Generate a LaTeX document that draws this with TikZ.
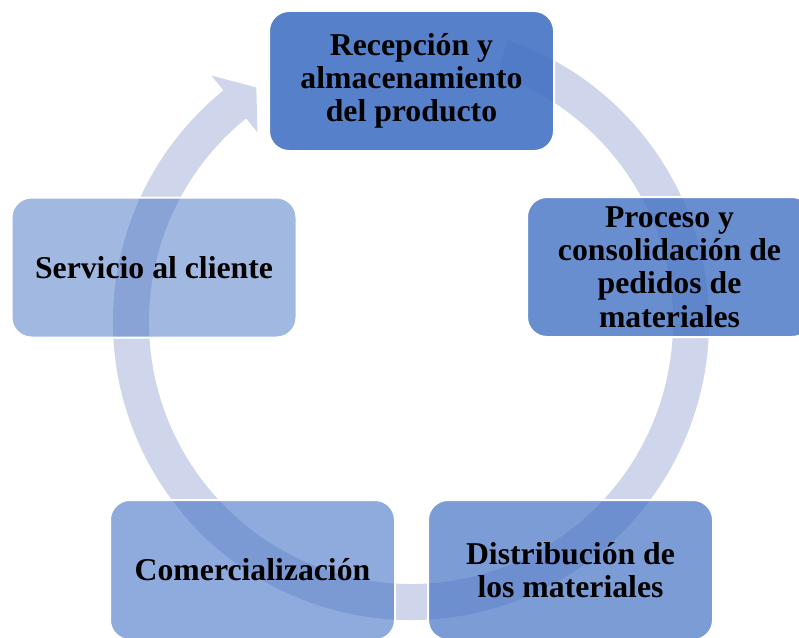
\documentclass[tikz,border=0pt]{standalone}
\usepackage{fontspec}
\setmainfont{Liberation Serif}
\usetikzlibrary{calc}
\definecolor{accent}{HTML}{4472C4}
\definecolor{ringlav}{HTML}{CFD5EA}
\tikzset{etapa/.style={rectangle, rounded corners=15pt, fill=accent, fill opacity=#1, text opacity=1,
  draw=white, draw opacity=1, line width=1.5pt, minimum width=213.75pt, minimum height=105pt,
  align=center, inner sep=2pt, font=\fontsize{23.8}{25}\selectfont\bfseries}}

\begin{document}
\begin{tikzpicture}[x=0.75pt, y=0.75pt]
\useasboundingbox (0,0) rectangle (799,637);
\clip (0,0) rectangle (799,637);
\coordinate (C) at (411,315);
% flecha circular de fondo
\fill[ringlav] ($(C)+(71:298)$) arc[start angle=71, end angle=-231, radius=298]
  -- ($(C)+(129:317)$) -- ($(C)+(123.4:281)$) -- ($(C)+(129:244)$)
  -- ($(C)+(129:262)$) arc[start angle=-231, end angle=71, radius=262] -- cycle;

\node[etapa=0.9] (recep)    at (411.5,556) {Recepción y\\almacenamiento\\del producto};
\node[etapa=0.8] (proceso)  at (669.5,370) {Proceso y\\consolidación de\\pedidos de\\materiales};
\node[etapa=0.7] (distrib)  at (570.5,67)  {Distribución de\\los materiales};
\node[etapa=0.6] (comerc)   at (252.5,67)  {Comercialización};
\node[etapa=0.5] (servicio) at (154,369.5) {Servicio al cliente};
\end{tikzpicture}
\end{document}
